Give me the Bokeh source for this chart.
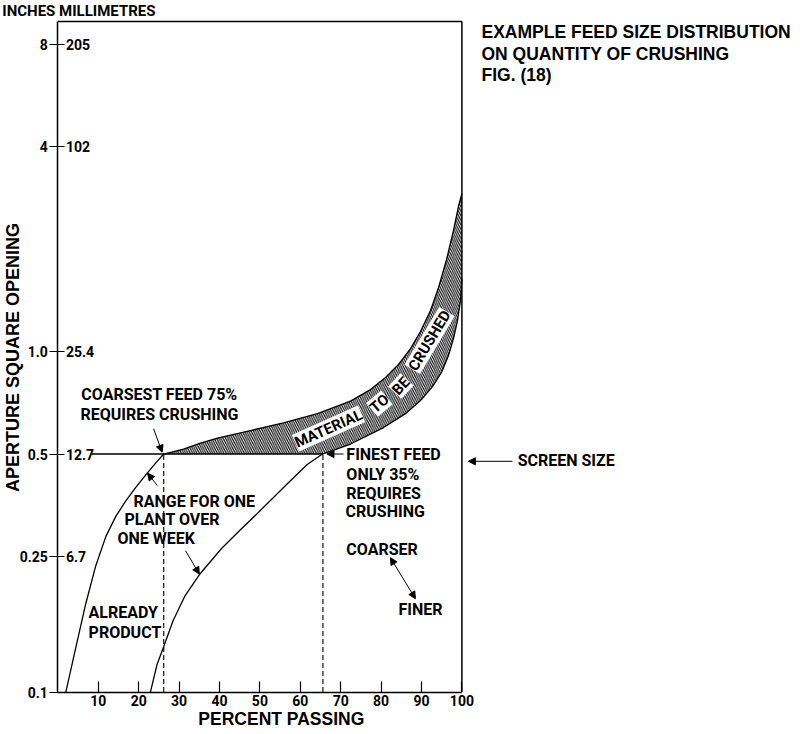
from bokeh.plotting import figure
from bokeh.models import Range1d, FixedTicker, Label, Arrow, NormalHead, LinearAxis, LogAxis
from bokeh.core.properties import value
from bokeh.embed import file_html
from bokeh.resources import INLINE

# ---------------- data (percent passing vs aperture, inches) ----------------
# coarsest feed curve
coarse_pct = [1.96, 4.43, 6.91, 9.38, 11.86, 14.33, 16.81, 19.28, 21.76, 24.23, 26.2,
              31.09, 35.30, 39.50, 47.67, 55.84, 64.26, 72.43, 77.38, 81.09, 84.31,
              87.28, 89.75, 92.23, 94.21, 96.19, 97.92, 99.16, 100.0]
coarse_in = [0.1, 0.135, 0.182, 0.235, 0.286, 0.328, 0.364, 0.399, 0.434, 0.471, 0.5,
             0.517, 0.538, 0.557, 0.586, 0.617, 0.657, 0.715, 0.773, 0.839, 0.916,
             1.02, 1.145, 1.32, 1.54, 1.86, 2.27, 2.67, 2.91]
# finest feed curve
fine_pct = [22.9, 24.5, 26.2, 28.5, 31.5, 35.0, 40.5, 45.0, 49.3, 56.8, 61.7, 65.5,
            72.43, 80.59, 86.04, 89.75, 92.72, 94.95, 96.68, 97.92, 98.91, 99.65, 100.0]
fine_in = [0.1, 0.12, 0.136, 0.162, 0.192, 0.221, 0.264, 0.298, 0.334, 0.409, 0.466, 0.5,
           0.535, 0.598, 0.657, 0.718, 0.789, 0.868, 0.973, 1.092, 1.233, 1.412, 1.638]

screen_size = 0.5
coarsest_pass = 26.2
finest_pass = 65.6

inch_ticks = [0.1, 0.25, 0.5, 1.0, 4.0, 8.0]
inch_labels = ["0.1", "0.25", "0.5", "1.0", "4", "8"]
mm_ticks = [0.25, 0.5, 1.0, 4.0, 8.0]
mm_labels = ["6.7", "12.7", "25.4", "102", "205"]
pct_ticks = [10, 20, 30, 40, 50, 60, 70, 80, 90, 100]

# chart box (percent 0-100, aperture 0.1 in up to the top edge)
x_lo, x_hi = 0.0, 100.0
y_lo, y_hi = 0.1, 9.315

ANN = "Roboto"
REG = "Liberation Sans"

# ---------------- figure (frame fills the page; axes pinned inside) ----------------
p = figure(width=800, height=734, x_range=Range1d(-14.208, 183.812), y_range=Range1d(0.07504, 10.736),
           y_axis_type="log", x_axis_location=None, y_axis_location=None,
           output_backend="svg", toolbar_location=None,
           min_border_left=0, min_border_right=0, min_border_top=0, min_border_bottom=0)
p.grid.visible = False
p.outline_line_color = None
p.background_fill_color = "white"
p.border_fill_color = "white"

xaxis = LinearAxis(fixed_location=y_lo, bounds=(x_lo, x_hi), ticker=FixedTicker(ticks=pct_ticks))
xaxis.major_tick_in = 11
xaxis.major_tick_out = 0
xaxis.major_label_standoff = 3
yaxis = LogAxis(fixed_location=x_lo, bounds=(y_lo, y_hi), ticker=FixedTicker(ticks=inch_ticks))
yaxis.major_label_overrides = {t: l for t, l in zip(inch_ticks, inch_labels)}
yaxis.major_tick_in = 7
yaxis.major_tick_out = 8
yaxis.major_label_standoff = 2
yaxis.major_label_orientation = "horizontal"
for ax in (xaxis, yaxis):
    ax.axis_line_width = 1.5
    ax.axis_line_color = "black"
    ax.major_tick_line_color = "black"
    ax.major_tick_line_width = 1.2
    ax.minor_tick_line_color = None
    ax.major_label_text_font = ANN
    ax.major_label_text_font_style = "bold"
    ax.major_label_text_font_size = "14px"
    ax.major_label_text_color = "black"
p.add_layout(xaxis, "below")
p.add_layout(yaxis, "left")

# top and right edges of the chart box
p.line([x_lo, x_hi], [y_hi, y_hi], line_color="black", line_width=1.5)
p.line([x_hi, x_hi], [y_lo, y_hi], line_color="black", line_width=1.5)

# millimetre labels inside the axis
p.text(x=[x_lo] * len(mm_ticks), y=mm_ticks, text=mm_labels, x_offset=8,
       text_font=value(ANN), text_font_size=value("14px"), text_font_style=value("bold"),
       text_baseline="middle", text_align="left", text_color="black")

# hatched "material to be crushed" band
up = [(x, y) for x, y in zip(coarse_pct, coarse_in) if y >= screen_size]
lo = [(x, y) for x, y in zip(fine_pct, fine_in) if y >= screen_size]
band_x = [x for x, _ in up] + [x for x, _ in reversed(lo)]
band_y = [y for _, y in up] + [y for _, y in reversed(lo)]
p.patch(band_x, band_y, fill_color="white", fill_alpha=0, line_color=None,
        hatch_pattern="left_diagonal_line", hatch_color="black", hatch_scale=4.5, hatch_weight=1.1)

# curves
p.line(coarse_pct, coarse_in, line_color="black", line_width=1.3)
p.line(fine_pct, fine_in, line_color="black", line_width=1.3)

# screen size line and dashed verticals
p.line([8.1, finest_pass], [screen_size, screen_size], line_color="black", line_width=1.3)
p.line([coarsest_pass, coarsest_pass], [y_lo, screen_size], line_color="black", line_width=1.1, line_dash="5 3")
p.line([finest_pass, finest_pass], [y_lo, screen_size], line_color="black", line_width=1.1, line_dash="5 3")


def lab(x, y, text, size=16, font=ANN, align="left", baseline="middle", angle=0, bg=None):
    p.add_layout(Label(x=x, y=y, text=text, text_font=font, text_font_size=f"{size}px",
                       text_font_style="bold", text_align=align, text_baseline=baseline,
                       angle=angle, angle_units="deg", text_color="black",
                       background_fill_color=bg))


def arrow(x0, y0, x1, y1, both=False):
    head = lambda: NormalHead(size=7, fill_color="black", line_color="black", line_width=1)
    p.add_layout(Arrow(x_start=x0, y_start=y0, x_end=x1, y_end=y1, line_width=1,
                       line_color="black", end=head(), start=head() if both else None))


# annotations
lab(5.8, 0.748, "COARSEST FEED 75%")
lab(5.6, 0.653, "REQUIRES CRUSHING")
arrow(23.7, 0.593, 25.8, 0.506)
lab(18.7, 0.363, "RANGE FOR ONE")
lab(16.5, 0.321, "PLANT OVER")
lab(14.75, 0.283, "ONE WEEK")
arrow(24.6, 0.404, 22.2, 0.439)
arrow(31.6, 0.26, 35.0, 0.222)
lab(7.6, 0.171, "ALREADY")
lab(7.6, 0.150, "PRODUCT")
lab(71.4, 0.497, "FINEST FEED")
lab(71.4, 0.435, "ONLY 35%")
lab(71.4, 0.384, "REQUIRES")
lab(71.2, 0.339, "CRUSHING")
arrow(70.7, screen_size, 66.6, screen_size)
lab(71.4, 0.262, "COARSER")
lab(84.3, 0.175, "FINER")
arrow(82.3, 0.248, 88.5, 0.188, both=True)
lab(113.8, 0.479, "SCREEN SIZE")
arrow(112.5, 0.476, 101.6, 0.476)

# band text
lab(67.0, 0.594, "MATERIAL", size=15, align="center", angle=24, bg="white")
lab(79.6, 0.703, "TO", size=15, align="center", angle=40, bg="white")
lab(84.9, 0.792, "BE", size=15, align="center", angle=47, bg="white")
lab(92.0, 1.077, "CRUSHED", size=15, align="center", angle=59, bg="white")

# titles and axis labels
lab(104.85, 8.70, "EXAMPLE FEED SIZE DISTRIBUTION", size=17.5, font=REG)
lab(104.85, 7.50, "ON QUANTITY OF CRUSHING", size=17.5, font=REG)
lab(104.85, 6.47, "FIG. (18)", size=17.5, font=REG)
lab(24.15, 9.97, "INCHES MILLIMETRES", size=15, align="right")
lab(55.3, 0.0836, "PERCENT PASSING", size=17.5, font=REG, align="center")
lab(-11.0, 0.96, "APERTURE SQUARE OPENING", size=18, font=REG, align="center", angle=90)

open("out.html", "w").write(file_html(p, INLINE))
